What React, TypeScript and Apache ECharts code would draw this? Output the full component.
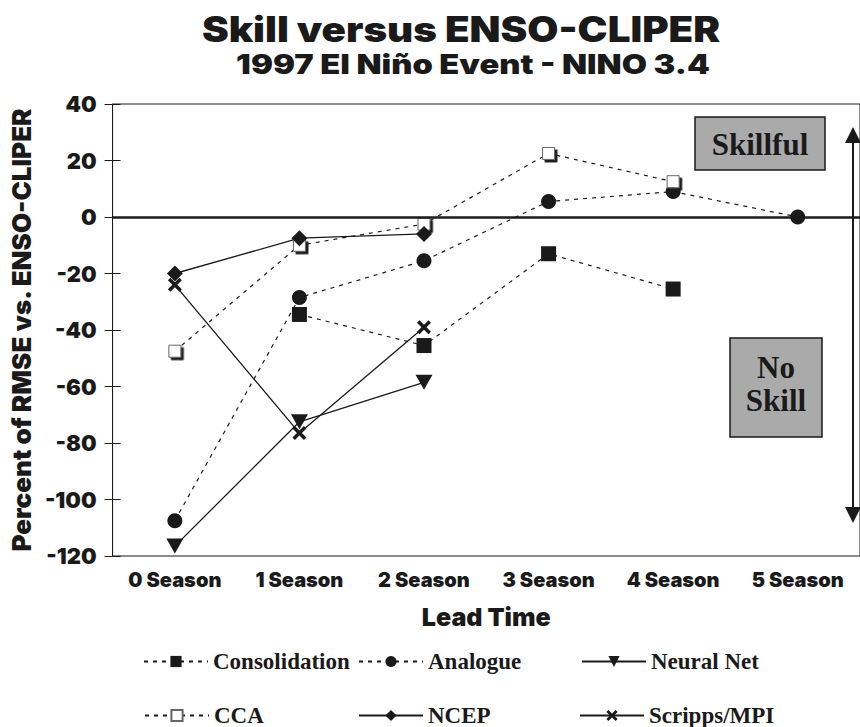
import React, { useEffect, useRef } from "react";
import * as echarts from "echarts";

const categories = ["0 Season", "1 Season", "2 Season", "3 Season", "4 Season", "5 Season"];
const consolidation = ["-", -34.5, -45.5, -13, -25.5, "-"];
const analogue = [-107.5, -28.5, -15.5, 5.5, 9, 0];
const neuralNet = [-116.5, -72.5, -58.5, "-", "-", "-"];
const cca = [-47.5, -10, -2.5, 22.5, 12.5, "-"];
const ncep = [-20, -7.5, -6, "-", "-", "-"];
const scripps = [-24, -76.5, -39, "-", "-", "-"];
const yMin = -120;
const yMax = 40;
const yStep = 20;

const INK = "#1a1a1a";
const HEAVY = "Inter, Roboto, sans-serif";
const SERIF = "'Liberation Serif', 'DejaVu Serif', serif";
const XPATH =
  "path://M0,2.5 L2.5,0 L7,4.5 L11.5,0 L14,2.5 L9.5,7 L14,11.5 L11.5,14 L7,9.5 L2.5,14 L0,11.5 L4.5,7 Z";

export default function App() {
  const ref = useRef<HTMLDivElement>(null);
  useEffect(() => {
    const chart = echarts.init(ref.current!, null, { renderer: "svg" });
    const dashed = { color: INK, width: 1.2, type: [4, 5] as any };
    const solid = { color: INK, width: 1.3, type: "solid" as any };
    const legendText = { fontFamily: SERIF, fontWeight: "bold" as any, fontSize: 23, color: INK };
    const mkLegend = (name: string, left: number, top: number) => ({
      data: [name],
      left,
      top,
      padding: 0,
      itemWidth: 64,
      itemHeight: 14,
      textStyle: legendText,
      selectedMode: false,
    });
    const option: any = {
      animation: false,
      backgroundColor: "#ffffff",
      grid: {
        left: 105,
        top: 104,
        width: 765,
        height: 452,
        show: true,
        borderColor: INK,
        borderWidth: 1,
        backgroundColor: "transparent",
      },
      legend: [
        mkLegend("Consolidation", 143, 650),
        mkLegend("Analogue", 358, 650),
        mkLegend("Neural Net", 581, 650),
        mkLegend("CCA", 144, 704),
        mkLegend("NCEP", 358, 704),
        mkLegend("Scripps/MPI", 579, 704),
      ],
      xAxis: {
        type: "category",
        data: categories,
        boundaryGap: true,
        axisLine: { show: true, lineStyle: { color: INK, width: 1 } },
        axisTick: { show: false },
        axisLabel: {
          fontFamily: HEAVY,
          fontWeight: 900,
          fontSize: 20,
          color: INK,
          margin: 14,
          interval: 0,
        },
        splitLine: { show: false },
        name: "Lead Time",
        nameLocation: "middle",
        nameGap: 48,
        nameTextStyle: { fontFamily: HEAVY, fontWeight: 900, fontSize: 25, color: INK },
      },
      yAxis: [
        {
          type: "value",
          min: yMin,
          max: yMax,
          interval: yStep,
          axisLine: { show: true, lineStyle: { color: INK, width: 1 } },
          axisTick: { show: true, length: 8, inside: false, lineStyle: { color: INK } },
          axisLabel: {
            fontFamily: HEAVY,
            fontWeight: 900,
            fontSize: 22,
            color: INK,
            margin: 16,
          },
          splitLine: { show: false },
          name: "Percent of RMSE vs. ENSO-CLIPER",
          nameLocation: "middle",
          nameRotate: 90,
          nameGap: 70,
          nameTextStyle: { fontFamily: HEAVY, fontWeight: 900, fontSize: 26, color: INK },
        },
        {
          type: "value",
          position: "left",
          min: yMin,
          max: yMax,
          interval: yStep,
          axisLine: { show: false },
          axisTick: { show: true, length: 8, inside: true, lineStyle: { color: INK } },
          axisLabel: { show: false },
          splitLine: { show: false },
        },
      ],
      series: [
        {
          name: "Consolidation",
          type: "line",
          data: consolidation,
          symbol: "rect",
          symbolSize: 15,
          lineStyle: dashed,
          itemStyle: { color: INK },
          markLine: {
            silent: true,
            symbol: "none",
            label: { show: false },
            lineStyle: { color: INK, width: 2.6, type: "solid" },
            data: [{ yAxis: 0 }],
          },
        },
        {
          name: "Analogue",
          type: "line",
          data: analogue,
          symbol: "circle",
          symbolSize: 15,
          lineStyle: dashed,
          itemStyle: { color: INK },
        },
        {
          name: "Neural Net",
          type: "line",
          data: neuralNet,
          symbol: "triangle",
          symbolRotate: 180,
          symbolSize: [17, 15],
          lineStyle: solid,
          itemStyle: { color: INK },
        },
        {
          name: "CCA",
          type: "line",
          data: cca,
          symbol: "rect",
          symbolSize: 12,
          lineStyle: dashed,
          itemStyle: {
            color: "#ffffff",
            borderColor: "#666666",
            borderWidth: 1,
            shadowColor: INK,
            shadowBlur: 0,
            shadowOffsetX: 2.5,
            shadowOffsetY: 2.5,
          },
        },
        {
          name: "NCEP",
          type: "line",
          data: ncep,
          symbol: "diamond",
          symbolSize: 16,
          lineStyle: solid,
          itemStyle: { color: INK },
        },
        {
          name: "Scripps/MPI",
          type: "line",
          data: scripps,
          symbol: XPATH,
          symbolSize: 14,
          lineStyle: solid,
          itemStyle: { color: INK },
        },
      ],
      graphic: [
        {
          type: "text",
          x: 461,
          y: 29,
          scaleX: 1.15,
          style: {
            text: "Skill versus ENSO-CLIPER",
            fontFamily: HEAVY,
            fontWeight: 900,
            fontSize: 35,
            fill: INK,
            textAlign: "center",
            textVerticalAlign: "middle",
            align: "center",
            verticalAlign: "middle",
          },
        },
        {
          type: "text",
          x: 473,
          y: 64,
          scaleX: 1.21,
          style: {
            text: "1997 El Niño Event - NINO 3.4",
            fontFamily: HEAVY,
            fontWeight: 900,
            fontSize: 27,
            fill: INK,
            textAlign: "center",
            textVerticalAlign: "middle",
            align: "center",
            verticalAlign: "middle",
          },
        },
        {
          type: "rect",
          shape: { x: 695, y: 117, width: 130, height: 53 },
          style: { fill: "#aaaaaa", stroke: INK, lineWidth: 1.5 },
        },
        {
          type: "text",
          x: 760,
          y: 144,
          style: {
            text: "Skillful",
            fontFamily: SERIF,
            fontWeight: "bold",
            fontSize: 31,
            fill: INK,
            textAlign: "center",
            textVerticalAlign: "middle",
            align: "center",
            verticalAlign: "middle",
          },
        },
        {
          type: "rect",
          shape: { x: 730, y: 338, width: 92, height: 99 },
          style: { fill: "#aaaaaa", stroke: INK, lineWidth: 1.5 },
        },
        {
          type: "text",
          x: 776,
          y: 384,
          style: {
            text: "No\nSkill",
            fontFamily: SERIF,
            fontWeight: "bold",
            fontSize: 31,
            lineHeight: 33,
            fill: INK,
            textAlign: "center",
            textVerticalAlign: "middle",
            align: "center",
            verticalAlign: "middle",
          },
        },
        {
          type: "line",
          shape: { x1: 853, y1: 138, x2: 853, y2: 512 },
          style: { stroke: INK, lineWidth: 2 },
        },
        {
          type: "polygon",
          shape: { points: [[853, 127], [845, 143], [861, 143]] },
          style: { fill: INK },
        },
        {
          type: "polygon",
          shape: { points: [[853, 523], [845, 507], [861, 507]] },
          style: { fill: INK },
        },
      ],
    };
    chart.setOption(option);
    return () => chart.dispose();
  }, []);
  return (
    <div
      ref={ref}
      style={{ position: "fixed", left: 0, top: 0, width: 860, height: 727, background: "#fff" }}
    />
  );
}
